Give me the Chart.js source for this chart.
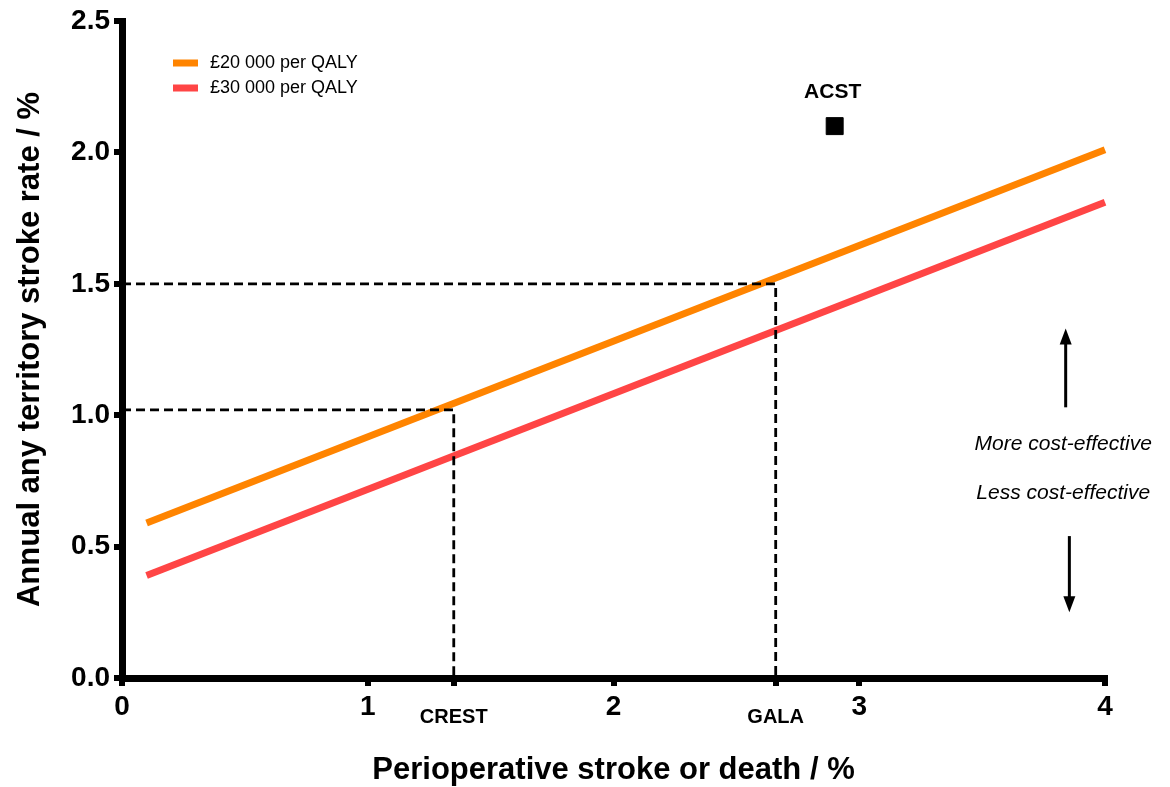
<!DOCTYPE html>
<html>
<head>
<meta charset="utf-8">
<script src="https://cdn.jsdelivr.net/npm/chart.js@4.4.1/dist/chart.umd.min.js"></script>
<style>
  html, body { margin: 0; padding: 0; background: #ffffff; }
  canvas { display: block; }
</style>
</head>
<body>
<canvas id="chart" width="1170" height="787"></canvas>
<script>
// Threshold lines: annual stroke rate above which surgery is cost-effective
const perioperativeRisk = [0.1, 4.0];
const threshold20k = [0.59, 2.01];
const threshold30k = [0.39, 1.81];
const seriesLabels = ['£20 000 per QALY', '£30 000 per QALY'];
const seriesColors = ['#FF8400', '#FF4545'];

// Trial reference points (perioperative risk, matching stroke rate)
const trialNames = ['CREST', 'GALA'];
const trialRisk = [1.35, 2.66];
const trialStrokeRate = [1.02, 1.5];

// ACST observed point
const acstRisk = [2.9];
const acstStrokeRate = [2.1];
const acstLabel = 'ACST';

// Axes
const xTickValues = [0, 1, 2, 3, 4];
const yTickValues = [0, 0.5, 1.0, 1.5, 2.0, 2.5];
const xAxisTitle = 'Perioperative stroke or death / %';
const yAxisTitle = 'Annual any territory stroke rate / %';
const upText = 'More cost-effective';
const downText = 'Less cost-effective';

const FONT = '"Liberation Sans", Arial, Helvetica, sans-serif';

const thresholdSets = [threshold20k, threshold30k].map((vals, i) => ({
  type: 'line',
  label: seriesLabels[i],
  data: perioperativeRisk.map((x, j) => ({ x: x, y: vals[j] })),
  borderColor: seriesColors[i],
  backgroundColor: seriesColors[i],
  borderWidth: 7,
  borderCapStyle: 'butt',
  pointRadius: 0,
  tension: 0,
  clip: false,
  order: 3
}));

const guideSets = trialNames.map((name, i) => ({
  type: 'line',
  label: name,
  data: [
    { x: 0, y: trialStrokeRate[i] },
    { x: trialRisk[i], y: trialStrokeRate[i] },
    { x: trialRisk[i], y: 0 }
  ],
  borderColor: '#000000',
  borderWidth: 2.8,
  borderDash: [9, 5],
  pointRadius: 0,
  tension: 0,
  order: 2
}));

const acstSet = {
  type: 'scatter',
  label: acstLabel,
  data: acstRisk.map((x, i) => ({ x: x, y: acstStrokeRate[i] })),
  pointStyle: 'rect',
  pointRadius: 12,
  pointHoverRadius: 12,
  backgroundColor: '#000000',
  borderColor: '#000000',
  borderWidth: 1,
  order: 1,
  isMarker: true
};

// Legend, ACST label and direction arrows
const overlayPlugin = {
  id: 'overlay',
  afterDatasetsDraw(chart) {
    const { ctx, chartArea, scales } = chart;
    const xs = scales.x, ys = scales.y;
    ctx.save();

    // legend
    ctx.font = '18px ' + FONT;
    ctx.textBaseline = 'middle';
    ctx.textAlign = 'left';
    thresholdSets.forEach((ds, i) => {
      const lx = chartArea.left + 51;
      const ly = chartArea.top + 42 + i * 25;
      ctx.fillStyle = ds.borderColor;
      ctx.fillRect(lx, ly - 3.5, 25, 7);
      ctx.fillStyle = '#000000';
      ctx.fillText(ds.label, lx + 37, ly);
    });

    // ACST label above its marker
    chart.data.datasets.forEach((ds, di) => {
      if (!ds.isMarker) return;
      const meta = chart.getDatasetMeta(di);
      meta.data.forEach(pt => {
        ctx.font = 'bold 21px ' + FONT;
        ctx.textAlign = 'center';
        ctx.fillStyle = '#000000';
        ctx.fillText(ds.label, pt.x - 2, pt.y - 34);
      });
    });

    // direction arrows
    const arrow = (x, y0, y1) => {
      const px = xs.getPixelForValue(x);
      const p0 = ys.getPixelForValue(y0);
      const p1 = ys.getPixelForValue(y1);
      const dir = p1 < p0 ? -1 : 1;
      ctx.strokeStyle = '#000000';
      ctx.lineWidth = 3;
      ctx.beginPath();
      ctx.moveTo(px, p0);
      ctx.lineTo(px, p1 - dir * 12);
      ctx.stroke();
      ctx.fillStyle = '#000000';
      ctx.beginPath();
      ctx.moveTo(px, p1);
      ctx.lineTo(px - 6, p1 - dir * 16);
      ctx.lineTo(px + 6, p1 - dir * 16);
      ctx.closePath();
      ctx.fill();
    };
    arrow(3.84, 1.03, 1.33);
    arrow(3.855, 0.54, 0.25);

    ctx.font = 'italic 21px ' + FONT;
    ctx.textAlign = 'center';
    ctx.fillStyle = '#000000';
    ctx.fillText(upText, xs.getPixelForValue(3.83), ys.getPixelForValue(0.89));
    ctx.fillText(downText, xs.getPixelForValue(3.83), ys.getPixelForValue(0.705));

    ctx.restore();
  }
};

const tickGrid = {
  display: true,
  drawOnChartArea: false,
  drawTicks: true,
  tickLength: 8,
  lineWidth: 6,
  color: '#000000'
};

new Chart(document.getElementById('chart'), {
  data: { datasets: [...thresholdSets, ...guideSets, acstSet] },
  plugins: [overlayPlugin],
  options: {
    responsive: false,
    animation: false,
    devicePixelRatio: 1,
    layout: { padding: { top: 21, right: 65, bottom: 0, left: 0 } },
    plugins: {
      legend: { display: false },
      tooltip: { enabled: false },
      title: { display: false }
    },
    scales: {
      x: {
        type: 'linear',
        min: 0,
        max: 4,
        afterBuildTicks: (scale) => {
          scale.ticks = [...xTickValues, ...trialRisk].sort((a, b) => a - b).map(v => ({ value: v }));
        },
        afterFit: (scale) => { scale.height = 109; },
        border: { display: true, color: '#000000', width: 7 },
        grid: tickGrid,
        ticks: {
          autoSkip: false,
          maxRotation: 0,
          padding: 4,
          color: '#000000',
          callback: (v) => {
            const k = trialRisk.indexOf(v);
            return k >= 0 ? trialNames[k] : String(v);
          },
          font: (ctx) => {
            const v = ctx.tick ? ctx.tick.value : null;
            return trialRisk.includes(v)
              ? { family: FONT, size: 20, weight: 'bold', lineHeight: 2.75 }
              : { family: FONT, size: 28, weight: 'bold', lineHeight: 1.2 };
          }
        },
        title: {
          display: true,
          text: xAxisTitle,
          color: '#000000',
          font: { family: FONT, size: 31, weight: 'bold', lineHeight: 1.2 },
          padding: { top: 0, bottom: -2 }
        }
      },
      y: {
        type: 'linear',
        min: 0,
        max: 2.5,
        afterBuildTicks: (scale) => {
          scale.ticks = yTickValues.map(v => ({ value: v }));
        },
        afterFit: (scale) => { scale.width = 122; },
        border: { display: true, color: '#000000', width: 7 },
        grid: tickGrid,
        ticks: {
          padding: 4,
          color: '#000000',
          font: { family: FONT, size: 28, weight: 'bold' },
          callback: (v) => Number(v).toFixed(1)
        },
        title: {
          display: true,
          text: yAxisTitle,
          color: '#000000',
          font: { family: FONT, size: 31, weight: 'bold', lineHeight: 1.2 },
          padding: { top: 12, bottom: 0 }
        }
      }
    }
  }
});
</script>
</body>
</html>
